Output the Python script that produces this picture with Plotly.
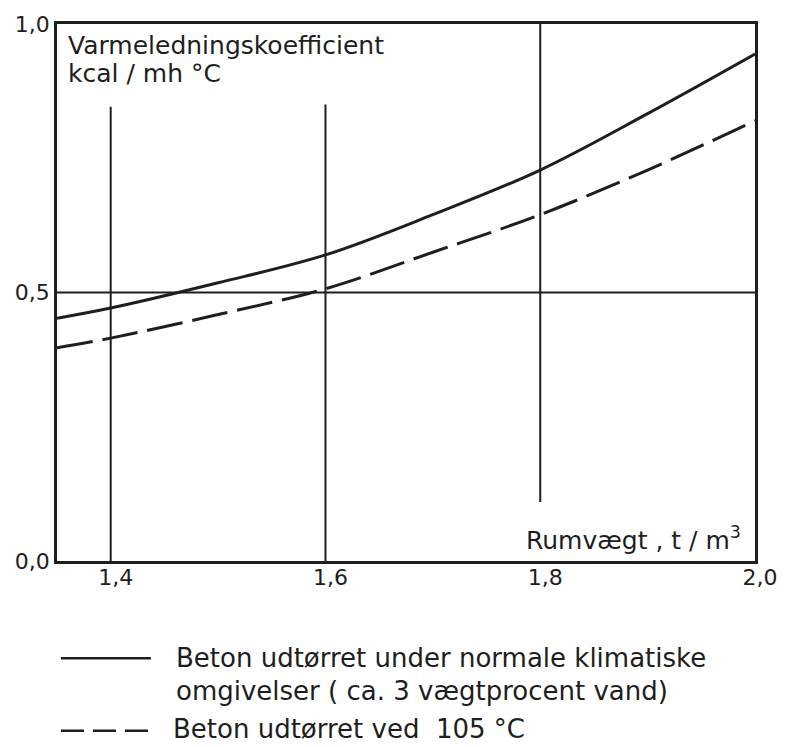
import plotly.graph_objects as go

# ---- data ----
density = [1.35, 1.40, 1.50, 1.60, 1.70, 1.80, 1.90, 2.00]
k_normal = [0.452, 0.471, 0.518, 0.570, 0.645, 0.728, 0.833, 0.944]
k_dried = [0.397, 0.415, 0.459, 0.507, 0.575, 0.645, 0.728, 0.820]

x_ticks = [1.4, 1.6, 1.8, 2.0]
x_tick_text = ["1,4", "1,6", "1,8", "2,0"]
y_ticks = [0.0, 0.5, 1.0]
y_tick_text = ["0,0", "0,5", "1,0"]

grid_v_x = [1.4, 1.6, 1.8]
grid_v_y0 = [0.0, 0.0, 0.11]
grid_v_y1 = [0.846, 0.85, 1.0]
grid_h_y = [0.5]

y_title_lines = ["Varmeledningskoefficient", "kcal / mh °C"]
x_title = "Rumvægt , t / m<sup>3</sup>"
legend_normal = ["Beton udtørret under normale klimatiske",
                 "omgivelser ( ca. 3 vægtprocent vand)"]
legend_dried = "Beton udtørret ved  105 °C"

# ---- layout geometry ----
W, H = 790, 747
L, R, T, B = 57, 26, 20, 186
PW, PH = W - L - R, H - T - B
INK = "#1e1e1e"
FONT = "DejaVu Sans"


def px(x):
    return (x - L) / PW


def py(y):
    return (H - B - y) / PH


fig = go.Figure()
fig.add_trace(go.Scatter(x=density, y=k_normal, mode="lines",
                         line=dict(color=INK, width=3, shape="spline"),
                         showlegend=False, hoverinfo="skip"))
fig.add_trace(go.Scatter(x=density, y=k_dried, mode="lines",
                         line=dict(color=INK, width=3, shape="spline",
                                   dash="36px,10px"),
                         showlegend=False, hoverinfo="skip"))

shapes = []
for gx, g0, g1 in zip(grid_v_x, grid_v_y0, grid_v_y1):
    shapes.append(dict(type="line", xref="x", yref="y", x0=gx, x1=gx,
                       y0=g0, y1=g1, line=dict(color=INK, width=2)))
for gy in grid_h_y:
    shapes.append(dict(type="line", xref="paper", yref="y", x0=0, x1=1,
                       y0=gy, y1=gy, line=dict(color=INK, width=2)))

# legend samples (decoration)
shapes.append(dict(type="line", xref="paper", yref="paper",
                   x0=px(61), x1=px(152), y0=py(659), y1=py(659),
                   line=dict(color=INK, width=2.5)))
shapes.append(dict(type="line", xref="paper", yref="paper",
                   x0=px(61), x1=px(156), y0=py(732), y1=py(732),
                   line=dict(color=INK, width=2.5, dash="23px,9px")))

TXT = 25
LEG = 26
ann = []
ann.append(dict(text=y_title_lines[0], x=px(66), y=py(42), xref="paper",
                yref="paper", xanchor="left", yanchor="middle",
                showarrow=False, font=dict(family=FONT, size=TXT, color=INK)))
ann.append(dict(text=y_title_lines[1], x=px(66), y=py(70), xref="paper",
                yref="paper", xanchor="left", yanchor="middle",
                showarrow=False, font=dict(family=FONT, size=TXT, color=INK)))
ann.append(dict(text=x_title, x=px(752), y=py(538), xref="paper",
                yref="paper", xanchor="right", yanchor="middle",
                showarrow=False, font=dict(family=FONT, size=TXT, color=INK)))
ann.append(dict(text=legend_normal[0], x=px(176), y=py(659), xref="paper",
                yref="paper", xanchor="left", yanchor="middle",
                showarrow=False, font=dict(family=FONT, size=LEG, color=INK)))
ann.append(dict(text=legend_normal[1], x=px(176), y=py(692), xref="paper",
                yref="paper", xanchor="left", yanchor="middle",
                showarrow=False, font=dict(family=FONT, size=LEG, color=INK)))
ann.append(dict(text=legend_dried, x=px(172), y=py(747), xref="paper",
                yref="paper", xanchor="left", yanchor="bottom",
                showarrow=False, font=dict(family=FONT, size=LEG, color=INK)))

axis_common = dict(showgrid=False, zeroline=False, showline=True, mirror=True,
                   linecolor=INK, linewidth=2.5, ticks="",
                   tickfont=dict(family=FONT, size=22, color=INK))

fig.update_layout(
    width=W, height=H,
    margin=dict(l=L, r=R, t=T, b=B),
    paper_bgcolor="white", plot_bgcolor="white",
    xaxis=dict(range=[1.35, 2.0], tickvals=x_ticks, ticktext=x_tick_text,
               ticklabelshift=5, ticklabelstandoff=-5, **axis_common),
    yaxis=dict(range=[0.0, 1.0], tickvals=y_ticks, ticktext=y_tick_text,
               **axis_common),
    shapes=shapes,
    annotations=ann,
    showlegend=False,
)

fig.write_html(
    "out.html",
    config={"displayModeBar": False},
    post_script="document.body.style.margin='0';"
                "document.body.style.overflow='hidden';",
)
